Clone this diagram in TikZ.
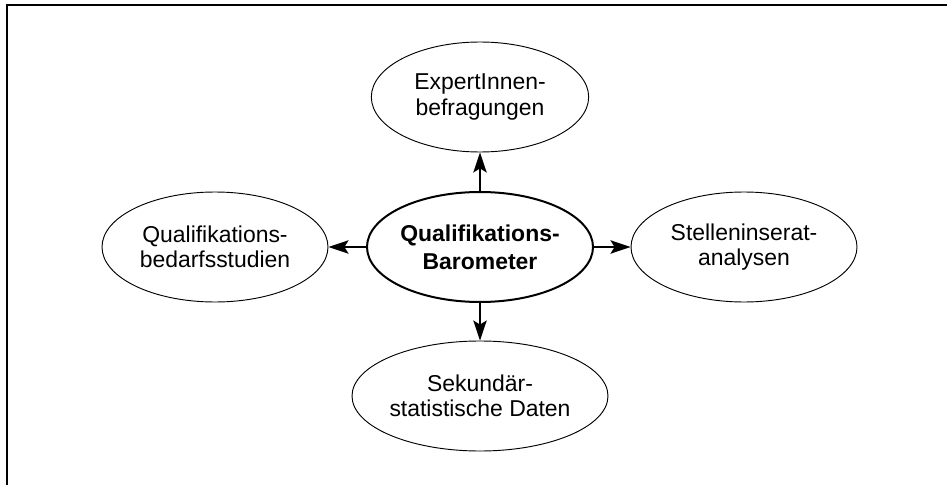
\documentclass[tikz,border=0pt]{standalone}
\usepackage{fontspec}
\setmainfont{Liberation Sans}
\usetikzlibrary{shapes.geometric,arrows.meta}

\begin{document}
\begin{tikzpicture}[x=0.75pt,y=-0.75pt,
  source/.style={ellipse,draw,line width=0.7pt,inner sep=0pt,
    minimum width=163pt,minimum height=82.5pt,align=center,
    font=\fontsize{17.2}{18.8}\selectfont},
  barometer/.style={source,line width=1.5pt,minimum width=169.5pt,
    font=\fontsize{17.2}{21}\selectfont\bfseries},
  flow/.style={line width=1.6pt,-{Stealth[length=15pt,width=10pt,inset=3pt]}}]
\useasboundingbox (0,0) rectangle (947,485);
% frame
\draw[line width=1.5pt] (947,5) -- (7,5) -- (7,485);

\node[barometer] (qb) at (480,247) {Qualifikations-\\Barometer};
\node[source] (expert) at (480,97) {ExpertInnen-\\befragungen};
\node[source,minimum width=169.5pt] (studien) at (215,247) {Qualifikations-\\bedarfsstudien};
\node[source,minimum width=169.5pt] (inserat) at (744,247) {Stelleninserat-\\analysen};
\node[source] (daten) at (480,396) {Sekundär-\\statistische Daten};

\draw[flow] (qb) -- (expert);
\draw[flow] (qb) -- (studien);
\draw[flow] (qb) -- (inserat);
\draw[flow] (qb) -- (daten);
\end{tikzpicture}
\end{document}
